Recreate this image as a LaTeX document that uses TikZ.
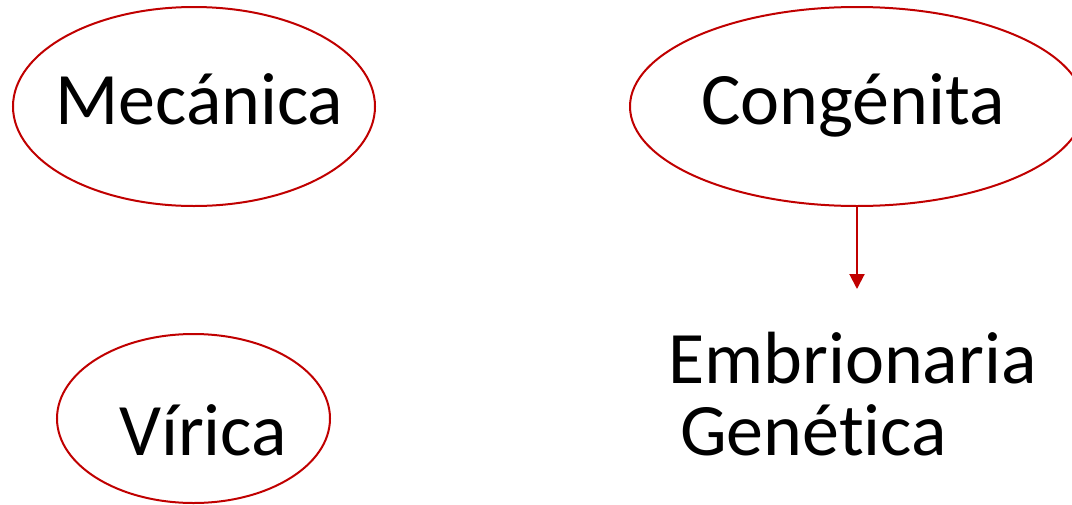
\documentclass[tikz,border=0pt]{standalone}
\usepackage{fontspec}
\setmainfont[Ligatures=NoCommon,RawFeature={-liga;-clig;-dlig}]{Carlito}
\usetikzlibrary{shapes.geometric,arrows.meta}
\definecolor{ered}{HTML}{C00000}
\begin{document}
\begin{tikzpicture}[x=1pt,y=-1pt,
  oval/.style={ellipse,draw=ered,line width=2pt,inner sep=0pt},
  lbl/.style={anchor=base west,inner sep=0pt,font=\fontsize{74}{72}\selectfont,text=black}]
\useasboundingbox (0,0) rectangle (1072,504);
\node[oval,minimum width=362pt,minimum height=199pt] (mec) at (194,106.5) {};
\node[oval,minimum width=454pt,minimum height=199pt] (cong) at (857,106.5) {};
\node[oval,minimum width=273pt,minimum height=169pt] (vir) at (193.5,418.5) {};
\node[lbl] (tmec) at (55,124) {Mecánica};
\node[lbl] (tcong) at (701,124) {Congénita};
\node[lbl] (tvir) at (119,455) {Vírica};
\node[lbl] (temb) at (668,383) {Embrionaria};
\node[lbl] (tgen) at (680,455) {Genética};
\coordinate (tip) at (857,289);
\draw[ered,line width=2pt,-{Triangle[width=15pt,length=15pt]}] (cong.south) -- (tip);
\end{tikzpicture}
\end{document}
